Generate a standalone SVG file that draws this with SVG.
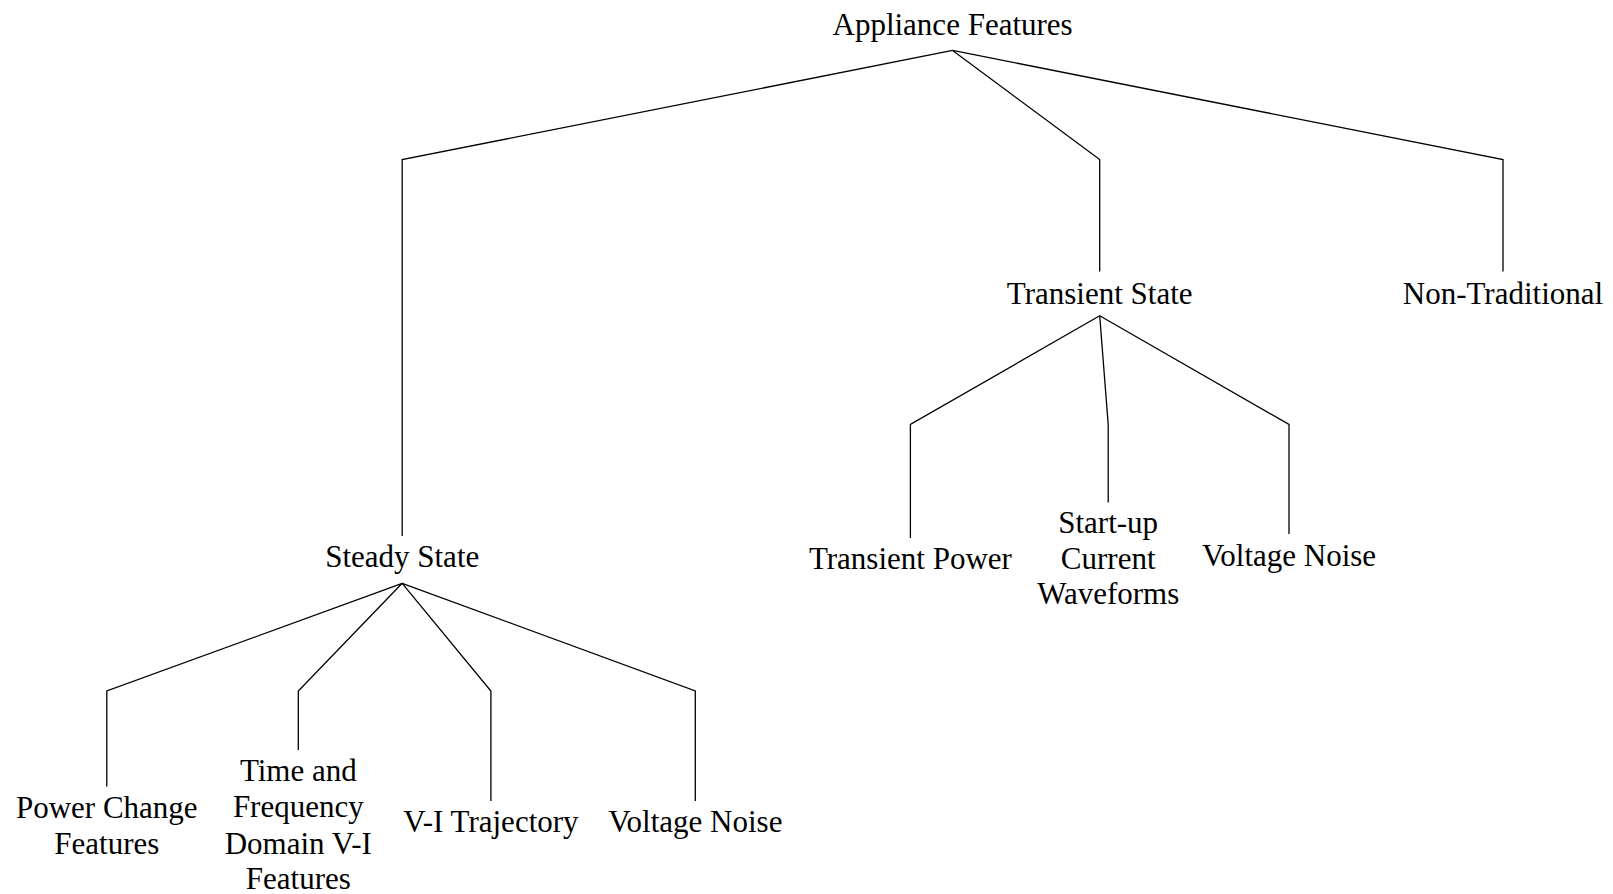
<svg xmlns="http://www.w3.org/2000/svg" width="1613" height="894" viewBox="0 0 1613 894">
<style>
text{font-family:"Liberation Serif","Times New Roman",serif;font-size:31px;fill:#000;text-anchor:middle}
.c{fill:none;stroke:#000;stroke-width:1.3;stroke-linejoin:miter}
</style>
<rect width="1613" height="894" fill="#fff"/>
<g id="connectors">
<polyline class="c" points="952.6,50.4 402.2,159.6 402.2,536"/>
<polyline class="c" points="952.6,50.4 1099.7,159.6 1099.7,271.6"/>
<polyline class="c" points="952.6,50.4 1503,159.6 1503,271.6"/>
<polyline class="c" points="1099.7,315.8 910.4,424.5 910.4,538"/>
<polyline class="c" points="1099.7,315.8 1108.2,424.5 1108.2,502.5"/>
<polyline class="c" points="1099.7,315.8 1289,424.5 1289,534"/>
<polyline class="c" points="402.2,583.3 106.8,691 106.8,786.5"/>
<polyline class="c" points="402.2,583.3 298.3,691 298.3,750"/>
<polyline class="c" points="402.2,583.3 490.9,691 490.9,801"/>
<polyline class="c" points="402.2,583.3 695.3,691 695.3,801"/>
</g>
<g id="appliance-features"><text x="952.6" y="35">Appliance Features</text></g>
<g id="steady-state"><text x="402.2" y="566.5">Steady State</text></g>
<g id="transient-state"><text x="1099.7" y="303.5">Transient State</text></g>
<g id="non-traditional"><text x="1503" y="303.5">Non-Traditional</text></g>
<g id="transient-power"><text x="910.4" y="568.5">Transient Power</text></g>
<g id="startup-current"><text x="1108.2" y="533">Start-up</text><text x="1108.2" y="568.5">Current</text><text x="1108.2" y="604">Waveforms</text></g>
<g id="transient-voltage-noise"><text x="1289" y="566">Voltage Noise</text></g>
<g id="power-change"><text x="106.8" y="817.5">Power Change</text><text x="106.8" y="853.5">Features</text></g>
<g id="time-frequency"><text x="298.3" y="781">Time and</text><text x="298.3" y="817">Frequency</text><text x="298.3" y="853.5">Domain V-I</text><text x="298.3" y="889">Features</text></g>
<g id="vi-trajectory"><text x="490.9" y="831.7">V-I Trajectory</text></g>
<g id="steady-voltage-noise"><text x="695.3" y="831.7">Voltage Noise</text></g>
</svg>
